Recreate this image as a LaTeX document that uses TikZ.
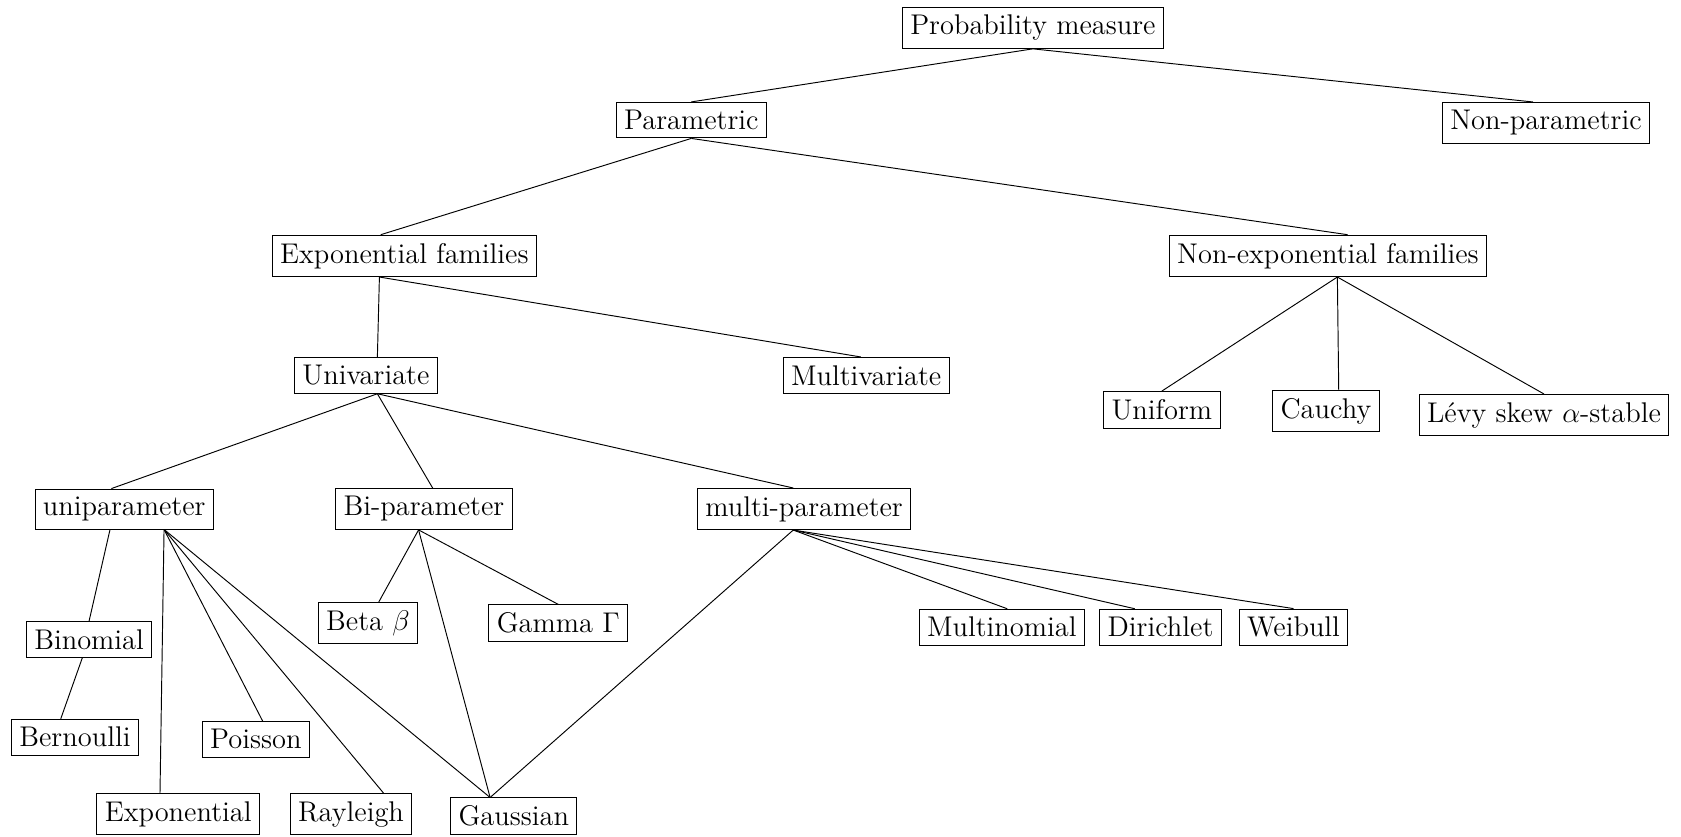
\documentclass[tikz,border=0pt]{standalone}
\usetikzlibrary{positioning}
\tikzset{
  fam/.style={draw, font=\large}
}
\newcommand{\famnodes}{
\node[fam] (prob) at (15.30, -0.41) {Probability measure};
\node[fam] (param) at (10.24, -1.78) {Parametric};
\node[fam] (nonparam) at (22.90, -1.82) {Non-parametric};
\node[fam] (expfam) at (5.99, -3.79) {Exponential families};
\node[fam] (nonexp) at (19.67, -3.79) {Non-exponential families};
\node[fam] (univ) at (5.42, -5.56) {Univariate};
\node[fam] (multiv) at (12.83, -5.56) {Multivariate};
\node[fam] (uniform) at (17.21, -6.07) {Uniform};
\node[fam] (cauchy) at (19.64, -6.09) {Cauchy};
\node[fam] (levy) at (22.87, -6.15) {L\'evy skew $\alpha$-stable};
\node[fam] (unipar) at (1.84, -7.54) {uniparameter};
\node[fam] (bipar) at (6.28, -7.54) {Bi-parameter};
\node[fam] (multipar) at (11.91, -7.54) {multi-parameter};
\node[fam] (beta) at (5.45, -9.23) {Beta $\beta$};
\node[fam] (gamma) at (8.27, -9.23) {Gamma $\Gamma$};
\node[fam] (multinom) at (14.84, -9.29) {Multinomial};
\node[fam] (dirichlet) at (17.19, -9.29) {Dirichlet};
\node[fam] (weibull) at (19.16, -9.29) {Weibull};
\node[fam] (binom) at (1.32, -9.47) {Binomial};
\node[fam] (bernoulli) at (1.11, -10.92) {Bernoulli};
\node[fam] (poisson) at (3.79, -10.95) {Poisson};
\node[fam] (expo) at (2.64, -12.06) {Exponential};
\node[fam] (rayleigh) at (5.20, -12.06) {Rayleigh};
\node[fam] (gauss) at (7.61, -12.09) {Gaussian};
}
\newcommand{\famports}{
\coordinate (expfam-s) at ([xshift=-0.37cm]expfam.south);
\coordinate (univ-n) at ([xshift=0.17cm]univ.north);
\coordinate (univ-s) at ([xshift=0.17cm]univ.south);
\coordinate (nonexp-s) at ([xshift=0.14cm]nonexp.south);
\coordinate (unipar-s) at ([xshift=0.59cm]unipar.south);
\coordinate (bipar-s) at ([xshift=-0.08cm]bipar.south);
\coordinate (multipar-s) at ([xshift=-0.16cm]multipar.south);
\coordinate (gauss-n) at ([xshift=-0.35cm]gauss.north);
}
\newcommand{\famedges}{
\draw (prob.south) -- (param.north);
\draw (prob.south) -- ([xshift=-0.19cm]nonparam.north);
\draw (param.south) -- ([xshift=-0.35cm]expfam.north);
\draw (param.south) -- ([xshift=0.29cm]nonexp.north);
\draw (expfam-s) -- (univ-n);
\draw (expfam-s) -- ([xshift=-0.08cm]multiv.north);
\draw (nonexp-s) -- (uniform.north);
\draw (nonexp-s) -- ([xshift=0.19cm]cauchy.north);
\draw (nonexp-s) -- (levy.north);
\draw (univ-s) -- ([xshift=-0.19cm]unipar.north);
\draw (univ-s) -- ([xshift=0.13cm]bipar.north);
\draw (univ-s) -- ([xshift=-0.16cm]multipar.north);
\draw ([xshift=-0.21cm]unipar.south) -- (binom.north);
\draw ([xshift=-0.1cm]binom.south) -- ([xshift=-0.21cm]bernoulli.north);
\draw (unipar-s) -- ([xshift=-0.27cm]expo.north);
\draw (unipar-s) -- ([xshift=0.1cm]poisson.north);
\draw (unipar-s) -- ([xshift=0.48cm]rayleigh.north);
\draw (unipar-s) -- (gauss-n);
\draw (bipar-s) -- ([xshift=0.16cm]beta.north);
\draw (bipar-s) -- (gamma.north);
\draw (bipar-s) -- (gauss-n);
\draw (multipar-s) -- (gauss-n);
\draw (multipar-s) -- ([xshift=0.08cm]multinom.north);
\draw (multipar-s) -- ([xshift=-0.38cm]dirichlet.north);
\draw (multipar-s) -- (weibull.north);
}
\begin{document}
\begin{tikzpicture}
\useasboundingbox (0, 0) rectangle (24.90, -12.385);

% families
\famnodes

% edge ports
\famports

% edges
\famedges
\end{tikzpicture}
\end{document}
